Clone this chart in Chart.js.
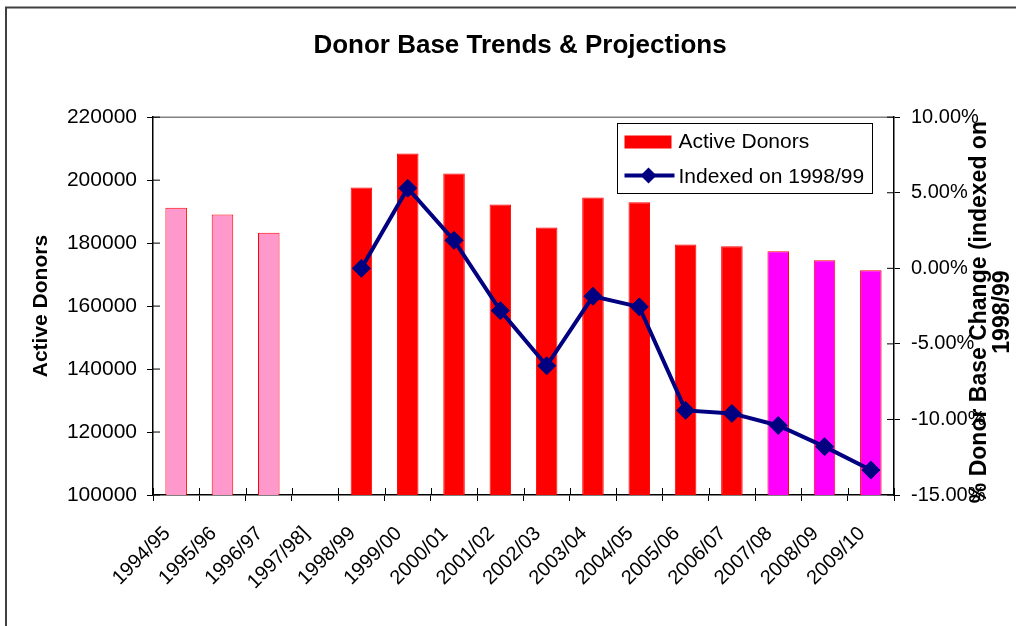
<!DOCTYPE html>
<html>
<head>
<meta charset="utf-8">
<title>Donor Base Trends &amp; Projections</title>
<script src="https://cdn.jsdelivr.net/npm/chart.js@4.4.0/dist/chart.umd.min.js"></script>
<style>
  html, body { margin: 0; padding: 0; background: #fff; }
  canvas { display: block; }
</style>
</head>
<body>
<canvas id="donorChart" width="1016" height="626"></canvas>
<script>
// --- DATA ---
const years = ['1994/95', '1995/96', '1996/97', '1997/98]', '1998/99', '1999/00', '2000/01', '2001/02',
               '2002/03', '2003/04', '2004/05', '2005/06', '2006/07', '2007/08', '2008/09', '2009/10'];
const activeDonors = [191200, 189100, 183300, null, 197700, 208500, 202100, 192300,
                      185000, 194500, 193000, 179600, 179000, 177400, 174600, 171400];
// % change in donor base, indexed on 1998/99
const indexedChange = [null, null, null, null, 0, 5.3, 1.85, -2.8,
                       -6.45, -1.85, -2.55, -9.4, -9.6, -10.4, -11.8, -13.35];
const donorTicks = [100000, 120000, 140000, 160000, 180000, 200000, 220000];
const changeTicks = [-15, -10, -5, 0, 5, 10];
const rightTitleLines = ['% Donor Base Change (indexed on', '1998/99'];

// first actual year and first projected year
const actualFrom = '1998/99';
const projectedFrom = '2007/08';

const RED = '#FF0000';
const PINK = '#FF99CC';
const MAGENTA = '#FF00FF';
const NAVY = '#000080';
const FONT = '"Liberation Sans", Arial, sans-serif';

const barFill = years.map(y => {
    if (years.indexOf(y) < years.indexOf(actualFrom)) return PINK;
    if (years.indexOf(y) >= years.indexOf(projectedFrom)) return MAGENTA;
    return RED;
});

Chart.defaults.font.family = FONT;
Chart.defaults.color = '#000';

// --- PLUGINS ---
const frame = {
    id: 'frame',
    beforeDraw(chart) {
        const { ctx, width, height, chartArea: a } = chart;
        ctx.save();
        ctx.fillStyle = '#fff';
        ctx.fillRect(0, 0, width, height);
        ctx.strokeStyle = '#404040';
        ctx.lineWidth = 2;
        ctx.beginPath();
        ctx.moveTo(6, height);
        ctx.lineTo(6, 7.5);
        ctx.lineTo(width, 7.5);
        ctx.stroke();
        // top edge of plot area
        ctx.strokeStyle = '#808080';
        ctx.lineWidth = 1.5;
        ctx.beginPath();
        ctx.moveTo(a.left, a.top);
        ctx.lineTo(a.right, a.top);
        ctx.stroke();
        ctx.restore();
    }
};

// tick marks that cross into the plot area
const innerTicks = {
    id: 'innerTicks',
    afterDraw(chart) {
        const { ctx, scales: { x, y, y1 } } = chart;
        ctx.save();
        ctx.strokeStyle = '#000';
        ctx.lineWidth = 1;
        ctx.beginPath();
        y.ticks.forEach((t, i) => {
            const p = y.getPixelForTick(i);
            ctx.moveTo(y.right, p);
            ctx.lineTo(y.right + 7, p);
        });
        y1.ticks.forEach((t, i) => {
            const p = y1.getPixelForTick(i);
            ctx.moveTo(y1.left - 7, p);
            ctx.lineTo(y1.left, p);
        });
        for (let i = 0; i <= years.length; i++) {
            const p = Math.round(x.getPixelForValue(i - 0.5)) + 0.5;
            ctx.moveTo(p, x.top - 7);
            ctx.lineTo(p, x.top);
        }
        ctx.stroke();
        ctx.restore();
    }
};

const legendBox = {
    id: 'legendBox',
    afterDraw(chart) {
        const { ctx, chartArea: a } = chart;
        const w = 255, h = 70;
        const bx = Math.round(a.right - 22 - w) + 0.5, by = Math.round(a.top + 6) + 0.5;
        ctx.save();
        ctx.fillStyle = '#fff';
        ctx.fillRect(bx, by, w, h);
        ctx.strokeStyle = '#000';
        ctx.lineWidth = 1;
        ctx.strokeRect(bx, by, w, h);

        ctx.fillStyle = RED;
        ctx.fillRect(bx + 7, by + 12, 47, 13);

        ctx.strokeStyle = NAVY;
        ctx.lineWidth = 4;
        ctx.beginPath();
        ctx.moveTo(bx + 7, by + 52);
        ctx.lineTo(bx + 57, by + 52);
        ctx.stroke();
        const cx = bx + 31, cy = by + 52, r = 8;
        ctx.fillStyle = NAVY;
        ctx.beginPath();
        ctx.moveTo(cx - r, cy);
        ctx.lineTo(cx, cy - r);
        ctx.lineTo(cx + r, cy);
        ctx.lineTo(cx, cy + r);
        ctx.closePath();
        ctx.fill();

        ctx.fillStyle = '#000';
        ctx.font = '21px ' + FONT;
        ctx.textBaseline = 'alphabetic';
        ctx.textAlign = 'left';
        ctx.fillText('Active Donors', bx + 61, by + 24);
        ctx.fillText('Indexed on 1998/99', bx + 61, by + 59);
        ctx.restore();
    }
};

// right axis title reads bottom-to-top like the left one
const rightTitle = {
    id: 'rightTitle',
    afterDraw(chart) {
        const { ctx, chartArea: a } = chart;
        ctx.save();
        ctx.translate(a.right + 86, (a.top + a.bottom) / 2 + 6);
        ctx.rotate(-Math.PI / 2);
        ctx.font = 'bold 23px ' + FONT;
        ctx.fillStyle = '#000';
        ctx.textAlign = 'center';
        ctx.textBaseline = 'middle';
        rightTitleLines.forEach((line, i) => ctx.fillText(line, 0, i * 23));
        ctx.restore();
    }
};

// --- CHART ---
const ctx = document.getElementById('donorChart').getContext('2d');
new Chart(ctx, {
    type: 'bar',
    data: {
        labels: years,
        datasets: [
            {
                type: 'line',
                label: 'Indexed on 1998/99',
                data: indexedChange,
                yAxisID: 'y1',
                borderColor: NAVY,
                backgroundColor: NAVY,
                borderWidth: 4,
                tension: 0,
                pointStyle: 'rectRot',
                pointRadius: 9,
                pointBorderWidth: 1,
                pointBackgroundColor: NAVY,
                pointBorderColor: NAVY,
                order: 0
            },
            {
                label: 'Active Donors',
                data: activeDonors,
                yAxisID: 'y',
                backgroundColor: barFill,
                borderColor: RED,
                borderWidth: 1,
                borderSkipped: 'start',
                categoryPercentage: 1,
                barPercentage: 0.465,
                order: 1
            }
        ]
    },
    options: {
        responsive: false,
        animation: false,
        devicePixelRatio: 1,
        layout: { padding: { left: 24, top: 0, right: 0, bottom: 0 } },
        plugins: {
            legend: { display: false },
            tooltip: { enabled: false },
            title: {
                display: true,
                text: 'Donor Base Trends & Projections',
                color: '#000',
                font: { size: 26, weight: 'bold' },
                padding: { top: 30, bottom: 56 }
            }
        },
        scales: {
            x: {
                grid: { drawOnChartArea: false, drawTicks: true, tickLength: 6, color: '#000', offset: true },
                border: { color: '#000', width: 1.5 },
                ticks: {
                    autoSkip: false,
                    minRotation: 45,
                    maxRotation: 45,
                    padding: 21,
                    labelOffset: -9,
                    font: { size: 20 }
                },
                afterFit(scale) { scale.height = 131; }
            },
            y: {
                position: 'left',
                min: 100000,
                max: 220000,
                grid: { drawOnChartArea: false, drawTicks: true, tickLength: 6, color: '#000' },
                border: { color: '#000', width: 1.5 },
                afterBuildTicks(scale) { scale.ticks = donorTicks.map(v => ({ value: v })); },
                ticks: {
                    padding: 10,
                    font: { size: 21 },
                    callback: v => String(v)
                },
                title: {
                    display: true,
                    text: 'Active Donors',
                    font: { size: 21, weight: 'bold' },
                    padding: { top: 5, bottom: 0 }
                },
                afterFit(scale) { scale.width = 129; }
            },
            y1: {
                position: 'right',
                min: -15,
                max: 10,
                grid: { drawOnChartArea: false, drawTicks: true, tickLength: 6, color: '#000' },
                border: { color: '#000', width: 1.5 },
                afterBuildTicks(scale) { scale.ticks = changeTicks.map(v => ({ value: v })); },
                ticks: {
                    padding: 11,
                    font: { size: 20 },
                    callback: v => v.toFixed(2) + '%'
                },
                afterFit(scale) { scale.width = 122; }
            }
        }
    },
    plugins: [frame, innerTicks, legendBox, rightTitle]
});
</script>
</body>
</html>
